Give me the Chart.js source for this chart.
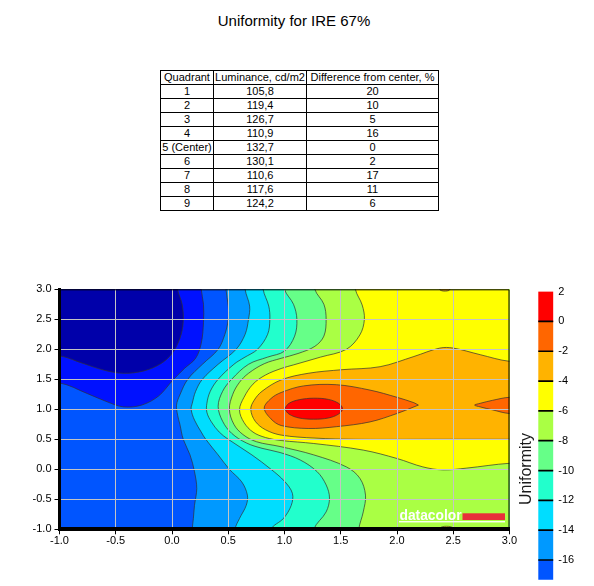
<!DOCTYPE html>
<html>
<head>
<title>Uniformity for IRE 67%</title>
<script src="https://cdn.jsdelivr.net/npm/chart.js@4.4.1/dist/chart.umd.min.js"></script>
<style>
    html, body { margin: 0; padding: 0; width: 594px; height: 586px; overflow: hidden; background: #fff; }
    #pageTitle { position: absolute; left: 0; top: 12px; width: 588px; text-align: center; font: 15px "Liberation Sans", Arial, sans-serif; line-height: 17px; color: #000; }
    #quadTable { position: absolute; left: 160px; top: 70px; border-collapse: collapse; table-layout: fixed; width: 278px; font: 11px "Liberation Sans", Arial, sans-serif; color: #000; }
    #quadTable td { border: 1px solid #000; padding: 0; height: 13px; line-height: 13px; text-align: center; white-space: nowrap; overflow: hidden; }
    #colorbar { position: absolute; left: 510px; top: 280px; z-index: 2; }
    #contour { position: absolute; left: 0; top: 0; z-index: 1; }
</style>
</head>
<body>
<div id="pageTitle">Uniformity for IRE 67%</div>
<table id="quadTable">
    <colgroup><col style="width:53px"><col style="width:93px"><col style="width:132px"></colgroup>
    <tbody id="quadBody"></tbody>
</table>
<canvas id="contour" width="594" height="586"></canvas>
<canvas id="colorbar" width="84" height="380"></canvas>
<script>
// table values
const tableHeader = ['Quadrant', 'Luminance, cd/m2', 'Difference from center, %'];
const quadrantNames = ['1', '2', '3', '4', '5 (Center)', '6', '7', '8', '9'];
const luminance = [105.8, 119.4, 126.7, 110.9, 132.7, 130.1, 110.6, 117.6, 124.2];
const diffFromCenter = [20, 10, 5, 16, 0, 2, 17, 11, 6];

// colorbar: band edges (top -> bottom) and the labelled ticks
const colorbarEdges = [2, 0, -2, -4, -6, -8, -10, -12, -14, -16, -17.3];
const colorbarTicks = [2, 0, -2, -4, -6, -8, -10, -12, -14, -16];

// contour lines, [x, y]
// levels below -16 (top left corner)
const lineM20 = [[-1.0,1.89],[-0.8,1.77],[-0.6,1.65],[-0.43,1.6],[-0.25,1.64],[-0.1,1.76],[0.0,1.93],[0.07,2.18],[0.1,2.46],[0.09,2.75],[0.05,3.0]];
const lineM18 = [[-1.0,1.44],[-0.75,1.26],[-0.57,1.12],[-0.43,1.04],[-0.27,1.07],[-0.12,1.22],[0.0,1.47],[0.11,1.68],[0.21,1.85],[0.26,2.1],[0.28,2.45],[0.28,2.75],[0.26,3.0]];
// levels -16 .. -8 run from the top edge to the bottom edge
const lineM16 = [[0.48,3.0],[0.5,2.72],[0.5,2.5],[0.47,2.25],[0.41,2.0],[0.27,1.75],[0.14,1.5],[0.07,1.24],[0.04,1.07],[0.05,0.9],[0.07,0.75],[0.1,0.5],[0.16,0.24],[0.2,-0.04],[0.22,-0.32],[0.2,-0.6],[0.19,-0.82],[0.18,-1.0]];
const lineM14 = [[0.65,3.0],[0.69,2.72],[0.68,2.5],[0.65,2.25],[0.57,2.0],[0.41,1.75],[0.27,1.5],[0.21,1.3],[0.18,1.1],[0.17,1.0],[0.2,0.82],[0.26,0.62],[0.3,0.5],[0.41,0.24],[0.51,0.0],[0.62,-0.21],[0.67,-0.43],[0.66,-0.6],[0.6,-0.82],[0.56,-1.0]];
const lineM12 = [[0.81,3.0],[0.86,2.72],[0.87,2.5],[0.85,2.25],[0.76,2.0],[0.64,1.86],[0.55,1.75],[0.41,1.5],[0.34,1.3],[0.31,1.1],[0.31,0.95],[0.35,0.79],[0.42,0.62],[0.5,0.5],[0.71,0.24],[0.88,0.0],[1.0,-0.2],[1.07,-0.4],[1.06,-0.6],[0.99,-0.82],[0.88,-1.0]];
const lineM10 = [[1.0,3.0],[1.08,2.75],[1.11,2.5],[1.09,2.22],[1.0,1.97],[0.85,1.87],[0.68,1.75],[0.53,1.5],[0.45,1.3],[0.41,1.05],[0.45,0.8],[0.53,0.6],[0.66,0.44],[0.8,0.35],[0.96,0.28],[1.14,0.155],[1.29,-0.04],[1.37,-0.26],[1.4,-0.48],[1.37,-0.71],[1.26,-1.0]];
const lineM8 = [[1.27,3.0],[1.35,2.75],[1.37,2.5],[1.35,2.22],[1.27,2.05],[1.12,1.93],[0.97,1.85],[0.82,1.76],[0.68,1.6],[0.6,1.45],[0.54,1.25],[0.51,1.0],[0.55,0.75],[0.63,0.58],[0.75,0.46],[0.96,0.38],[1.26,0.24],[1.55,0.04],[1.67,-0.15],[1.72,-0.43],[1.7,-0.71],[1.66,-1.0]];
// -6 runs from the top edge to the right edge, plus a small patch on the bottom edge
const lineM6 = [[1.63,3.0],[1.69,2.74],[1.71,2.5],[1.67,2.24],[1.55,2.0],[1.32,1.87],[1.08,1.74],[0.97,1.68],[0.83,1.57],[0.72,1.42],[0.64,1.2],[0.6,0.99],[0.64,0.78],[0.72,0.62],[0.83,0.53],[0.97,0.48],[1.26,0.43],[1.7,0.32],[2.0,0.18],[2.23,0.04],[2.41,-0.01],[2.62,0.02],[3.0,0.1]];
const lineM6b = [[2.37,-1.0],[2.4,-0.96],[2.44,-0.95],[2.48,-0.96],[2.51,-1.0]];
// -4 leaves and returns to the right edge, plus a small patch on the top edge
const lineM4 = [[3.0,1.8],[2.74,1.91],[2.5,2.02],[2.38,2.02],[2.15,1.88],[1.85,1.71],[1.51,1.66],[1.21,1.6],[0.97,1.49],[0.8,1.3],[0.73,1.15],[0.7,1.0],[0.74,0.8],[0.83,0.66],[0.97,0.57],[1.27,0.52],[1.63,0.5],[2.3,0.5],[3.0,0.5]];
const lineM4b = [[2.38,3.0],[2.4,2.975],[2.43,2.97],[2.46,2.98],[2.47,3.0]];
// -2: closed loop around the peak and a patch on the right edge
const lineM2 = [[2.19,1.07],[2.15,1.11],[2.0,1.2],[1.76,1.32],[1.46,1.41],[1.17,1.39],[0.97,1.28],[0.88,1.18],[0.82,1.02],[0.88,0.84],[0.97,0.73],[1.21,0.68],[1.46,0.71],[1.76,0.79],[2.0,0.93],[2.15,1.04],[2.19,1.07]];
const lineM2b = [[3.0,1.2],[2.85,1.15],[2.74,1.1],[2.69,1.07],[2.74,1.04],[2.85,0.99],[3.0,0.93]];
// 0: the peak
const line0 = [[1.0,1.01],[1.04,1.1],[1.13,1.16],[1.26,1.185],[1.39,1.165],[1.48,1.1],[1.516,1.01],[1.48,0.92],[1.39,0.855],[1.26,0.835],[1.13,0.855],[1.04,0.92],[1.0,1.01]];

// colours, top band of the colorbar first
const bandColors = ['#FF0000', '#FF6600', '#FFB300', '#FFFF00', '#AAFF44', '#66FF88', '#22FFCC', '#00DDFF', '#0099FF', '#0055FF'];
const deepColors = ['#0011FF', '#0000AA'];   // below -18, below -20
const lineColor = 'rgba(50,50,50,0.7)';
const font11 = { family: '"Liberation Sans", Arial, sans-serif', size: 11 };

// ---- table ----
var body = document.getElementById('quadBody');
var rows = [tableHeader];
for (var i = 0; i < quadrantNames.length; i++) {
    rows.push([quadrantNames[i], luminance[i].toFixed(1).replace('.', ','), String(diffFromCenter[i])]);
}
rows.forEach(function (r) {
    var tr = document.createElement('tr');
    r.forEach(function (c) {
        var td = document.createElement('td');
        td.textContent = c;
        tr.appendChild(td);
    });
    body.appendChild(tr);
});

// ---- contour plot ----
const X_MIN = -1, X_MAX = 3, Y_MIN = -1, Y_MAX = 3, OUT = 0.3;
const TOP_LEFT = [X_MIN - OUT, Y_MAX + OUT], TOP_RIGHT = [X_MAX + OUT, Y_MAX + OUT], BOTTOM_RIGHT = [X_MAX + OUT, Y_MIN - OUT];

// push a point that sits on the plot edge a little outside, so the closing edges get clipped away
function outward(p) {
    var x = p[0], y = p[1];
    if (x <= X_MIN) x -= OUT; else if (x >= X_MAX) x += OUT;
    if (y >= Y_MAX) y += OUT; else if (y <= Y_MIN) y -= OUT;
    return [x, y];
}
function region(line, corners) {
    var first = line[0], last = line[line.length - 1];
    var pts;
    if (first[0] === last[0] && first[1] === last[1]) {
        pts = line.slice();
    } else {
        pts = [outward(first)].concat(line, [outward(last)], corners, [outward(first)]);
    }
    return pts.map(function (p) { return { x: p[0], y: p[1] }; });
}

// bottom layer first
var layers = [
    { line: lineM18, corners: [TOP_LEFT], color: deepColors[0] },
    { line: lineM20, corners: [TOP_LEFT], color: deepColors[1] },
    { line: lineM16, corners: [BOTTOM_RIGHT, TOP_RIGHT], color: bandColors[8] },
    { line: lineM14, corners: [BOTTOM_RIGHT, TOP_RIGHT], color: bandColors[7] },
    { line: lineM12, corners: [BOTTOM_RIGHT, TOP_RIGHT], color: bandColors[6] },
    { line: lineM10, corners: [BOTTOM_RIGHT, TOP_RIGHT], color: bandColors[5] },
    { line: lineM8, corners: [BOTTOM_RIGHT, TOP_RIGHT], color: bandColors[4] },
    { line: lineM6, corners: [TOP_RIGHT], color: bandColors[3] },
    { line: lineM6b, corners: [], color: bandColors[3] },
    { line: lineM4, corners: [], color: bandColors[2] },
    { line: lineM4b, corners: [], color: bandColors[2] },
    { line: lineM2, corners: [], color: bandColors[1] },
    { line: lineM2b, corners: [], color: bandColors[1] },
    { line: line0, corners: [], color: bandColors[0] }
];
var contourSets = layers.map(function (l, i) {
    return {
        data: region(l.line, l.corners),
        showLine: true,
        fill: 'shape',
        backgroundColor: l.color,
        borderColor: lineColor,
        borderWidth: 1,
        pointRadius: 0,
        tension: 0.35,
        order: layers.length - i
    };
});

function edgeGrid(ctx) {
    if (ctx.tick && (ctx.tick.value <= -1 || ctx.tick.value >= 3)) return 'rgba(0,0,0,0)';
    return '#C4C4C4';
}

var plotExtras = {
    id: 'plotExtras',
    beforeDatasetsDraw: function (chart) {
        var a = chart.chartArea, c = chart.ctx;
        c.save();
        c.fillStyle = bandColors[9];
        c.fillRect(a.left, a.top, a.right - a.left, a.bottom - a.top);
        c.restore();
    },
    afterDraw: function (chart) {
        var a = chart.chartArea, c = chart.ctx;
        c.save();
        // thin frame on top and right
        c.strokeStyle = '#000';
        c.lineWidth = 1;
        c.beginPath();
        c.moveTo(a.left, a.top + 0.5); c.lineTo(a.right - 0.5, a.top + 0.5); c.lineTo(a.right - 0.5, a.bottom);
        c.stroke();
        // datacolor mark
        c.fillStyle = '#E8303A';
        c.fillRect(a.right - 47, a.bottom - 16, 42.5, 6.7);
        c.fillStyle = '#fff';
        c.font = 'bold 14px "Liberation Sans", Arial, sans-serif';
        c.textBaseline = 'alphabetic';
        c.fillText('datacolor', a.right - 110, a.bottom - 9.3, 62);
        c.fillRect(a.right - 110.5, a.bottom - 8.2, 106, 1.3);
        c.restore();
    }
};

var ctx1 = document.getElementById('contour').getContext('2d');
var contourChart = new Chart(ctx1, {
    type: 'scatter',
    data: { datasets: contourSets },
    plugins: [plotExtras],
    options: {
        responsive: false,
        animation: false,
        events: [],
        layout: { padding: { left: 9.5, right: 84.5, top: 289.3, bottom: 36.7 } },
        plugins: { legend: { display: false }, tooltip: { enabled: false } },
        elements: { line: { capBezierPoints: false } },
        scales: {
            x: {
                type: 'linear', min: X_MIN, max: X_MAX,
                ticks: { stepSize: 0.5, autoSkip: false, maxRotation: 0, padding: 0, color: '#000', font: font11, z: 1,
                    callback: function (v) { return Number(v).toFixed(1); } },
                grid: { z: 1, color: edgeGrid, tickColor: '#000', tickLength: 5, lineWidth: 1 },
                border: { z: 1, color: '#000', width: 4 },
                afterFit: function (s) { s.height = 20; }
            },
            y: {
                type: 'linear', min: Y_MIN, max: Y_MAX,
                ticks: { stepSize: 0.5, autoSkip: false, padding: 3, color: '#000', font: font11, z: 1,
                    callback: function (v) { return Number(v).toFixed(1); } },
                grid: { z: 1, color: edgeGrid, tickColor: '#000', tickLength: 5, lineWidth: 1 },
                border: { z: 1, color: '#000', width: 3 },
                afterFit: function (s) { s.width = 50; }
            }
        }
    }
});

// ---- colorbar ----
// colour bands, plus thin black floating bars on the level boundaries (drawn on top)
var barSets = [];
for (var k = 0; k < colorbarEdges.length - 1; k++) {
    barSets.push({
        data: [[colorbarEdges[k + 1], colorbarEdges[k]]],
        backgroundColor: bandColors[k],
        borderWidth: 0,
        grouped: false,
        barPercentage: 1,
        categoryPercentage: 1,
        order: 2
    });
}
colorbarTicks.forEach(function (v) {
    if (v >= colorbarEdges[0]) return;
    barSets.push({
        data: [[v - 0.035, v + 0.035]],
        backgroundColor: '#000',
        borderWidth: 0,
        grouped: false,
        barPercentage: 1,
        categoryPercentage: 1,
        order: 1
    });
});

var ctx2 = document.getElementById('colorbar').getContext('2d');
var colorbarChart = new Chart(ctx2, {
    type: 'bar',
    data: { labels: ['Uniformity'], datasets: barSets },
    options: {
        responsive: false,
        animation: false,
        events: [],
        layout: { padding: { left: 3, right: 0, top: 9.5, bottom: 13.5 } },
        plugins: { legend: { display: false }, tooltip: { enabled: false } },
        scales: {
            x: { display: false },
            y: {
                position: 'right', min: -21.8, max: 2,
                afterBuildTicks: function (s) { s.ticks = colorbarTicks.map(function (v) { return { value: v }; }); },
                ticks: { padding: 5, color: '#000', font: font11 },
                grid: { display: false, drawTicks: false },
                border: { display: false },
                afterFit: function (s) { s.width = 40.7; }
            },
            yTitle: {
                position: 'left', min: -21.8, max: 2,
                ticks: { display: false },
                grid: { display: false },
                border: { display: false },
                title: { display: true, text: 'Uniformity', color: '#1a1a1a',
                    font: { family: '"Liberation Sans", Arial, sans-serif', size: 16 } },
                afterFit: function (s) { s.width = 25.3; }
            }
        }
    }
});
</script>
</body>
</html>
